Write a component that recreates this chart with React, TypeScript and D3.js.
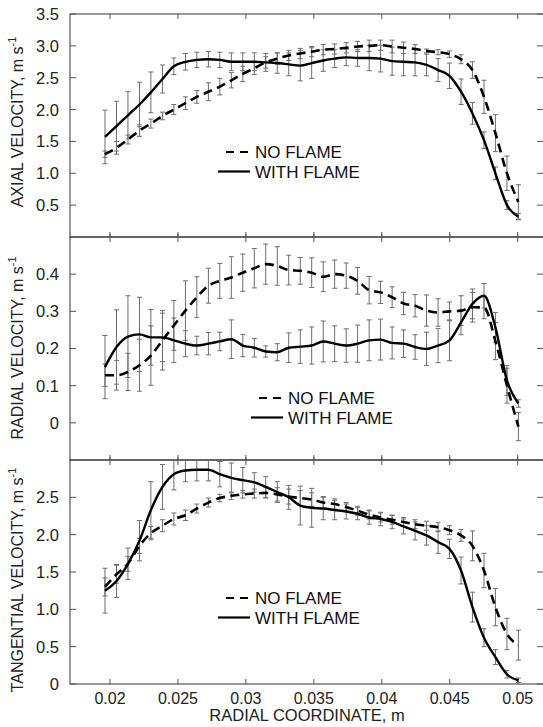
import React from "react";
import * as d3 from "d3";

// ---------------- DATA ----------------
const radialCoord = [
  0.01963, 0.02048, 0.02132, 0.02217, 0.02301, 0.02386, 0.0247, 0.02555, 0.02639, 0.02724,
  0.02808, 0.02893, 0.02977, 0.03062, 0.03146, 0.03231, 0.03315, 0.034, 0.03484, 0.03569,
  0.03653, 0.03738, 0.03822, 0.03907, 0.03991, 0.04076, 0.0416, 0.04245, 0.04329, 0.04414,
  0.04498, 0.04583, 0.04667, 0.04752, 0.04836, 0.04921, 0.05005,
];

const axialNoFlame = [
  1.3, 1.4, 1.53, 1.67, 1.78, 1.9, 2.0, 2.1, 2.2, 2.28, 2.36, 2.46, 2.56, 2.65, 2.74, 2.8, 2.85,
  2.88, 2.91, 2.94, 2.95, 2.97, 2.99, 3.0, 3.01, 2.99, 2.97, 2.95, 2.92, 2.9, 2.87, 2.79, 2.62,
  2.2, 1.63, 1.0, 0.55,
];
const axialNoFlameErr = [
  0.05, 0.1, 0.07, 0.09, 0.07, 0.06, 0.08, 0.1, 0.1, 0.14, 0.13, 0.12, 0.12, 0.1, 0.09, 0.09,
  0.08, 0.08, 0.08, 0.08, 0.08, 0.08, 0.08, 0.09, 0.08, 0.1, 0.09, 0.07, 0.03, 0.04, 0.05, 0.07,
  0.13, 0.26, 0.29, 0.27, 0.27,
];
const axialWithFlame = [
  1.57, 1.74, 1.91, 2.08, 2.27, 2.48, 2.68, 2.75, 2.78, 2.79, 2.78, 2.75, 2.75, 2.75, 2.74, 2.73,
  2.71, 2.69, 2.73, 2.77, 2.8, 2.82, 2.81, 2.81, 2.8, 2.76, 2.75, 2.74, 2.7, 2.62, 2.53, 2.28,
  1.94, 1.52, 1.0, 0.5, 0.32,
];
const axialWithFlameErr = [
  0.42, 0.39, 0.37, 0.35, 0.32, 0.22, 0.13, 0.13, 0.12, 0.12, 0.12, 0.14, 0.14, 0.14, 0.14, 0.16,
  0.18, 0.24, 0.24, 0.17, 0.14, 0.13, 0.13, 0.2, 0.21, 0.22, 0.22, 0.21, 0.17, 0.18, 0.2, 0.2,
  0.17, 0.13, 0.1, 0.07, 0.05,
];

const radialNoFlame = [
  0.128, 0.128, 0.137, 0.155, 0.181, 0.222, 0.262, 0.302, 0.338, 0.369, 0.382, 0.391, 0.404,
  0.416, 0.427, 0.422, 0.411, 0.409, 0.404, 0.393, 0.4, 0.396, 0.382, 0.357, 0.351, 0.338, 0.321,
  0.315, 0.302, 0.297, 0.3, 0.302, 0.311, 0.31, 0.22, 0.1, -0.01,
];
const radialNoFlameErr = [
  0.03, 0.04, 0.05, 0.07, 0.08, 0.08, 0.067, 0.08, 0.055, 0.047, 0.047, 0.056, 0.05, 0.053, 0.054,
  0.052, 0.04, 0.036, 0.04, 0.04, 0.038, 0.034, 0.036, 0.037, 0.03, 0.028, 0.03, 0.03, 0.042,
  0.037, 0.025, 0.04, 0.04, 0.03, 0.05, 0.047, 0.038,
];
const radialWithFlame = [
  0.15, 0.204, 0.232, 0.238, 0.23, 0.23, 0.222, 0.213, 0.208, 0.213, 0.219, 0.225, 0.208, 0.202,
  0.192, 0.19, 0.202, 0.205, 0.208, 0.219, 0.213, 0.208, 0.213, 0.222, 0.224, 0.215, 0.213, 0.204,
  0.199, 0.208, 0.222, 0.27, 0.32, 0.342, 0.257, 0.114, 0.052,
];
const radialWithFlameErr = [
  0.085, 0.1, 0.11, 0.1, 0.075, 0.065, 0.06, 0.035, 0.025, 0.03, 0.025, 0.052, 0.03, 0.025, 0.015,
  0.023, 0.04, 0.045, 0.05, 0.055, 0.048, 0.045, 0.05, 0.055, 0.055, 0.043, 0.037, 0.033, 0.045,
  0.046, 0.055, 0.033, 0.04, 0.033, 0.04, 0.04, 0.01,
];

const tangentialNoFlame = [
  1.3, 1.47, 1.61, 1.85, 2.02, 2.12, 2.21, 2.26, 2.35, 2.43, 2.49, 2.52, 2.54, 2.55, 2.56, 2.54,
  2.51, 2.49, 2.47, 2.43, 2.41, 2.37, 2.32, 2.27, 2.23, 2.2, 2.17, 2.14, 2.12, 2.1, 2.06, 1.99,
  1.85, 1.52, 1.03, 0.67, 0.52,
];
const tangentialNoFlameErr = [
  0.12, 0.12, 0.1, 0.1, 0.09, 0.08, 0.08, 0.07, 0.06, 0.06, 0.05, 0.05, 0.05, 0.06, 0.07, 0.09,
  0.1, 0.1, 0.09, 0.08, 0.07, 0.06, 0.06, 0.06, 0.06, 0.06, 0.06, 0.06, 0.06, 0.06, 0.06, 0.08,
  0.2, 0.23, 0.25, 0.21, 0.2,
];
const tangentialWithFlame = [
  1.25, 1.38, 1.61, 1.92, 2.33, 2.64, 2.81, 2.86, 2.87, 2.87, 2.81, 2.76, 2.73, 2.7, 2.64, 2.57,
  2.5, 2.39, 2.36, 2.35, 2.33, 2.31, 2.28, 2.23, 2.21, 2.17, 2.11, 2.05, 1.99, 1.9, 1.81, 1.52,
  1.03, 0.62, 0.36, 0.13, 0.05,
];
const tangentialWithFlameErr = [
  0.3, 0.22, 0.21, 0.27, 0.38, 0.3, 0.21, 0.15, 0.15, 0.15, 0.17, 0.2, 0.17, 0.13, 0.14, 0.14,
  0.16, 0.26, 0.26, 0.15, 0.13, 0.1, 0.08, 0.09, 0.09, 0.09, 0.1, 0.12, 0.13, 0.15, 0.13, 0.18,
  0.2, 0.12, 0.1, 0.05, 0.03,
];

const xTickValues = [0.02, 0.025, 0.03, 0.035, 0.04, 0.045, 0.05];
const xTickLabels = ["0.02", "0.025", "0.03", "0.035", "0.04", "0.045", "0.05"];

const axialTicks = [3.5, 3.0, 2.5, 2.0, 1.5, 1.0, 0.5];
const axialTickLabels = ["3.5", "3.0", "2.5", "2.0", "1.5", "1.0", "0.5"];
const radialTicks = [0.4, 0.3, 0.2, 0.1, 0];
const radialTickLabels = ["0.4", "0.3", "0.2", "0.1", "0"];
const tangentialTicks = [2.5, 2.0, 1.5, 1.0, 0.5, 0];
const tangentialTickLabels = ["2.5", "2.0", "1.5", "1.0", "0.5", "0"];

const legendLabels = ["NO FLAME", "WITH FLAME"];

// ---------------- LAYOUT ----------------
const W = 543;
const H = 727;
const LEFT = 70;
const RIGHT = 544;
const FONT = "'Liberation Sans', Arial, Helvetica, sans-serif";

const x = d3.scaleLinear().domain([0.02, 0.05]).range([110, 517.7]);

type Panel = {
  top: number;
  bottom: number;
  domain: [number, number];
  ticks: number[];
  tickLabels: string[];
  label: string;
  labelY: number;
  noFlame: number[];
  noFlameErr: number[];
  withFlame: number[];
  withFlameErr: number[];
  legendX: number;
  legendY: number;
};

const panels: Panel[] = [
  {
    top: 14, bottom: 237, domain: [0, 3.5], ticks: axialTicks, tickLabels: axialTickLabels,
    label: "AXIAL VELOCITY, m s", labelY: 122,
    noFlame: axialNoFlame, noFlameErr: axialNoFlameErr,
    withFlame: axialWithFlame, withFlameErr: axialWithFlameErr,
    legendX: 250, legendY: 152,
  },
  {
    top: 237, bottom: 460, domain: [-0.1, 0.5], ticks: radialTicks, tickLabels: radialTickLabels,
    label: "RADIAL VELOCITY, m s", labelY: 348,
    noFlame: radialNoFlame, noFlameErr: radialNoFlameErr,
    withFlame: radialWithFlame, withFlameErr: radialWithFlameErr,
    legendX: 283, legendY: 398,
  },
  {
    top: 460, bottom: 684, domain: [0, 3.0], ticks: tangentialTicks, tickLabels: tangentialTickLabels,
    label: "TANGENTIAL VELOCITY, m s", labelY: 580,
    noFlame: tangentialNoFlame, noFlameErr: tangentialNoFlameErr,
    withFlame: tangentialWithFlame, withFlameErr: tangentialWithFlameErr,
    legendX: 250, legendY: 598,
  },
];

function PanelView({ p, idx }: { p: Panel; idx: number }) {
  const y = d3.scaleLinear().domain(p.domain).range([p.bottom, p.top]);
  const line = d3
    .line<number>()
    .x((_, i) => x(radialCoord[i]))
    .y((d) => y(d))
    .curve(d3.curveMonotoneX);

  const errBars = (vals: number[], errs: number[], key: string) =>
    vals.map((v, i) => {
      const cx = x(radialCoord[i]);
      const y1 = y(v + errs[i]);
      const y2 = y(v - errs[i]);
      return (
        <g key={key + i} stroke="#6e6e6e" strokeWidth={1}>
          <line x1={cx} x2={cx} y1={y1} y2={y2} />
          <line x1={cx - 2.5} x2={cx + 2.5} y1={y1} y2={y1} />
          <line x1={cx - 2.5} x2={cx + 2.5} y1={y2} y2={y2} />
        </g>
      );
    });

  const clipId = "clip" + idx;
  const lx = p.legendX;
  const ly = p.legendY;
  const gap = 19.5;

  return (
    <g>
      <defs>
        <clipPath id={clipId}>
          <rect x={LEFT} y={p.top} width={RIGHT - LEFT} height={p.bottom - p.top} />
        </clipPath>
      </defs>
      <rect x={LEFT} y={p.top} width={RIGHT - LEFT} height={p.bottom - p.top} fill="none" stroke="#333" strokeWidth={1} />
      {p.ticks.map((t, i) => (
        <g key={"yt" + i}>
          <line x1={LEFT} x2={LEFT + 6} y1={y(t)} y2={y(t)} stroke="#555" />
          <line x1={W - 6} x2={W} y1={y(t)} y2={y(t)} stroke="#555" />
          <text x={59} y={y(t)} dy="0.36em" textAnchor="end" fontFamily={FONT} fontSize={16.5} fill="#222">
            {p.tickLabels[i]}
          </text>
        </g>
      ))}
      {xTickValues.map((t, i) => (
        <g key={"xt" + i} stroke="#555">
          <line x1={x(t)} x2={x(t)} y1={p.top - (idx > 0 ? 3 : 0)} y2={p.top + 5} />
          <line x1={x(t)} x2={x(t)} y1={p.bottom - 5} y2={p.bottom} />
        </g>
      ))}
      <text
        transform={`translate(23,${p.labelY}) rotate(-90)`}
        textAnchor="middle"
        fontFamily={FONT}
        fontSize={16}
        fill="#222"
      >
        {p.label}
        <tspan dy={-7} fontSize={11}>-1</tspan>
      </text>
      <g clipPath={`url(#${clipId})`}>
        {errBars(p.noFlame, p.noFlameErr, "n")}
        {errBars(p.withFlame, p.withFlameErr, "w")}
        <path d={line(p.noFlame) || ""} fill="none" stroke="#000" strokeWidth={2.6} strokeDasharray="9,5.5" />
        <path d={line(p.withFlame) || ""} fill="none" stroke="#000" strokeWidth={2.4} />
      </g>
      <line x1={lx - 24} x2={lx - 2} y1={ly} y2={ly} stroke="#000" strokeWidth={2.2} strokeDasharray="8,6" />
      <text x={lx + 5} y={ly} dy="0.36em" fontFamily={FONT} fontSize={17} fill="#111">
        {legendLabels[0]}
      </text>
      <line x1={lx - 32} x2={lx} y1={ly + gap} y2={ly + gap} stroke="#000" strokeWidth={2.2} />
      <text x={lx + 5} y={ly + gap} dy="0.36em" fontFamily={FONT} fontSize={17} fill="#111">
        {legendLabels[1]}
      </text>
    </g>
  );
}

export default function App() {
  return (
    <svg
      width={W}
      height={H}
      viewBox={`0 0 ${W} ${H}`}
      style={{ position: "absolute", left: 0, top: 0, display: "block", background: "#fff" }}
    >
      <rect x={0} y={0} width={W} height={H} fill="#fff" />
      {panels.map((p, i) => (
        <PanelView key={i} p={p} idx={i} />
      ))}
      {xTickValues.map((t, i) => (
        <text key={"xl" + i} x={x(t)} y={704} textAnchor="middle" fontFamily={FONT} fontSize={16} fill="#222">
          {xTickLabels[i]}
        </text>
      ))}
      <text x={307} y={721} textAnchor="middle" fontFamily={FONT} fontSize={16.5} fill="#222">
        RADIAL COORDINATE, m
      </text>
    </svg>
  );
}
